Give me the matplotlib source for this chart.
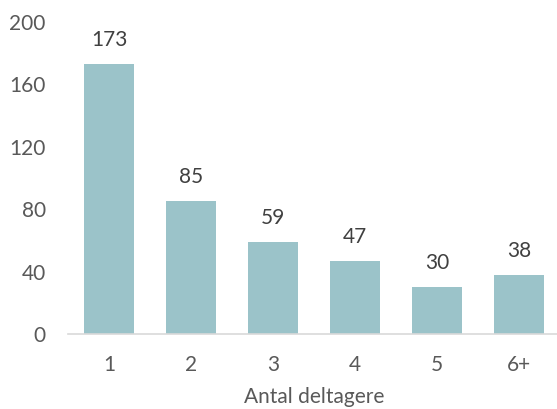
import matplotlib.pyplot as plt
import numpy as np

categories = ['1', '2', '3', '4', '5', '6+']
values = [173, 85, 59, 47, 30, 38]
y_ticks = [0, 40, 80, 120, 160, 200]

plt.rcParams['font.family'] = ['Lato', 'DejaVu Sans']
text_color = '#595959'

fig = plt.figure(figsize=(5.57, 4.09), dpi=100)
ax = fig.add_axes([68 / 557, 75 / 409, 492 / 557, 312 / 409])

x = np.arange(len(categories))
ax.bar(x, values, width=0.61, color='#9BC3C9')

for xi, v in zip(x, values):
    ax.text(xi, v + 9, str(v), ha='center', va='bottom', fontsize=15, color='#404040')

ax.set_xlim(-0.5, len(categories) - 0.5)
ax.set_ylim(0, 200)
ax.set_yticks(y_ticks)
ax.set_xticks(x)
ax.set_xticklabels(categories)
ax.tick_params(axis='both', length=0, labelsize=15, labelcolor=text_color)
ax.tick_params(axis='x', pad=15)
ax.tick_params(axis='y', pad=16)
for side in ['top', 'right', 'left']:
    ax.spines[side].set_visible(False)
ax.spines['bottom'].set_color('#D9D9D9')
ax.spines['bottom'].set_linewidth(1.2)
ax.set_xlabel('Antal deltagere', fontsize=15, color=text_color, labelpad=9)

fig.savefig('out.png', dpi=100)
